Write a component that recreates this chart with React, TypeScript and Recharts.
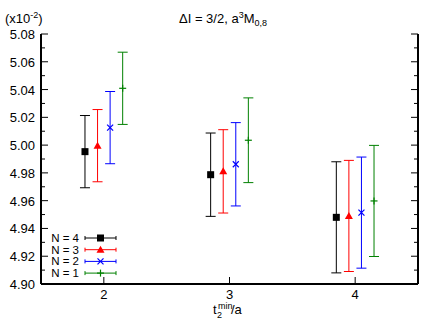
import React from 'react';
import { ScatterChart, Scatter, XAxis, YAxis, ErrorBar, Legend, Customized } from 'recharts';

const tminValues = [2, 3, 4];
const seriesNames = ['N = 4', 'N = 3', 'N = 2', 'N = 1'];
const seriesColors = ['#000000', '#ff0000', '#0000ff', '#008000'];
const seriesOffsets = [-0.15, -0.05, 0.05, 0.15];
const n4Values = [4.9953, 4.9787, 4.948];
const n4Errors = [0.026, 0.03, 0.04];
const n3Values = [4.9996, 4.9811, 4.949];
const n3Errors = [0.026, 0.03, 0.04];
const n2Values = [5.0126, 4.9862, 4.9514];
const n2Errors = [0.026, 0.03, 0.04];
const n1Values = [5.0409, 5.0035, 4.9598];
const n1Errors = [0.026, 0.0305, 0.04];
const xTicks = [2, 3, 4];
const yTicks = [4.9, 4.91, 4.92, 4.93, 4.94, 4.95, 4.96, 4.97, 4.98, 4.99, 5.0, 5.01, 5.02, 5.03, 5.04, 5.05, 5.06, 5.07, 5.08];

const FONT = '"Liberation Sans", Arial, Helvetica, sans-serif';

const allValues = [n4Values, n3Values, n2Values, n1Values];
const allErrors = [n4Errors, n3Errors, n2Errors, n1Errors];
const seriesData = allValues.map((vals, s) =>
  tminValues.map((t, i) => ({ x: t + seriesOffsets[s], y: vals[i], err: allErrors[s][i] }))
);

const isMajor = (v: number) => Math.round(v * 100) % 2 === 0;

const Marker = ({ kind, cx, cy, color }: any) => {
  if (kind === 0) return <rect x={cx - 3.5} y={cy - 3.5} width={7} height={7} fill={color} />;
  if (kind === 1) return <polygon points={`${cx},${cy - 4} ${cx + 4},${cy + 3} ${cx - 4},${cy + 3}`} fill={color} />;
  if (kind === 2)
    return (
      <g stroke={color} strokeWidth={1.2}>
        <line x1={cx - 3} y1={cy - 3} x2={cx + 3} y2={cy + 3} />
        <line x1={cx - 3} y1={cy + 3} x2={cx + 3} y2={cy - 3} />
      </g>
    );
  return (
    <g stroke={color} strokeWidth={1.2}>
      <line x1={cx - 3.5} y1={cy} x2={cx + 3.5} y2={cy} />
      <line x1={cx} y1={cy - 3.5} x2={cx} y2={cy + 3.5} />
    </g>
  );
};

const makeShape = (s: number) => (props: any) => <Marker kind={s} cx={props.cx} cy={props.cy} color={seriesColors[s]} />;

const LeftTick = (props: any) => {
  const { x, y, payload } = props;
  const v = payload.value;
  const major = isMajor(v);
  return (
    <g>
      <line x1={x} y1={y} x2={x + (major ? 7 : 4)} y2={y} stroke="#000" strokeWidth={1} />
      {major && (
        <text x={x - 6} y={y + 5} textAnchor="end" fontSize={13} fontFamily={FONT} fill="#000">
          {v.toFixed(2)}
        </text>
      )}
    </g>
  );
};

const RightTick = (props: any) => {
  const { x, y, payload } = props;
  const major = isMajor(payload.value);
  return <line x1={x} y1={y} x2={x - (major ? 7 : 4)} y2={y} stroke="#000" strokeWidth={1} />;
};

const BottomTick = (props: any) => {
  const { x, y, payload } = props;
  return (
    <g>
      <line x1={x} y1={y} x2={x} y2={y - 7} stroke="#000" strokeWidth={1} />
      <text x={x} y={y + 15} textAnchor="middle" fontSize={13} fontFamily={FONT} fill="#000">
        {payload.value}
      </text>
    </g>
  );
};

const TopTick = (props: any) => {
  const { x, y } = props;
  return <line x1={x} y1={y} x2={x} y2={y + 7} stroke="#000" strokeWidth={1} />;
};

const Labels = () => (
  <g fontFamily={FONT} fill="#000">
    <text x={5} y={23} fontSize={13}>
      (x10<tspan dy={-5} fontSize={9}>-2</tspan><tspan dy={5}>)</tspan>
    </text>
    <text x={179} y={23} fontSize={13}>
      ΔI = 3/2, a<tspan dy={-5} fontSize={9}>3</tspan><tspan dy={5}>M</tspan><tspan dy={3} fontSize={9}>0,8</tspan>
    </text>
    <text x={213} y={314} fontSize={13}>t</text>
    <text x={217} y={318} fontSize={9}>2</text>
    <text x={218} y={309} fontSize={9}>min</text>
    <text x={231} y={314} fontSize={13}>/a</text>
  </g>
);

const LegendContent = () => (
  <svg width={80} height={54} style={{ display: 'block', overflow: 'visible' }}>
    {seriesNames.map((name, s) => {
      const cy = 8 + s * 11.7;
      return (
        <g key={name}>
          <text x={34} y={cy + 4} textAnchor="end" fontSize={11.5} fontFamily={FONT} fill="#000">
            {name}
          </text>
          <line x1={40} y1={cy} x2={71} y2={cy} stroke={seriesColors[s]} strokeWidth={1} />
          <line x1={40} y1={cy - 2} x2={40} y2={cy + 2} stroke={seriesColors[s]} strokeWidth={1} />
          <line x1={71} y1={cy - 2} x2={71} y2={cy + 2} stroke={seriesColors[s]} strokeWidth={1} />
          <Marker kind={s} cx={55.5} cy={cy} color={seriesColors[s]} />
        </g>
      );
    })}
  </svg>
);

export default function App() {
  return (
    <div style={{ position: 'absolute', left: 0, top: 0, width: 436, height: 327, background: '#fff' }}>
      <ScatterChart width={436} height={327} margin={{ top: 34, right: 0, bottom: 0, left: 0 }}>
        <XAxis
          type="number"
          dataKey="x"
          domain={[1.5, 4.5]}
          ticks={xTicks}
          interval={0}
          height={43}
          tickSize={0}
          tickMargin={0}
          tickLine={false}
          tick={<BottomTick />}
          axisLine={{ stroke: '#000', strokeWidth: 2 }}
          allowDataOverflow
        />
        <XAxis
          xAxisId="top"
          orientation="top"
          type="number"
          domain={[1.5, 4.5]}
          ticks={xTicks}
          interval={0}
          height={0}
          tickSize={0}
          tickMargin={0}
          tickLine={false}
          tick={<TopTick />}
          axisLine={{ stroke: '#000', strokeWidth: 2 }}
          allowDataOverflow
        />
        <YAxis
          type="number"
          dataKey="y"
          domain={[4.9, 5.08]}
          ticks={yTicks}
          interval={0}
          width={41}
          tickSize={0}
          tickMargin={0}
          tickLine={false}
          tick={<LeftTick />}
          axisLine={{ stroke: '#000', strokeWidth: 2 }}
          allowDataOverflow
        />
        <YAxis
          yAxisId="right"
          orientation="right"
          type="number"
          domain={[4.9, 5.08]}
          ticks={yTicks}
          interval={0}
          width={18}
          tickSize={0}
          tickMargin={0}
          tickLine={false}
          tick={<RightTick />}
          axisLine={{ stroke: '#000', strokeWidth: 2 }}
          allowDataOverflow
        />
        {seriesData.map((d, s) => (
          <Scatter
            key={seriesNames[s]}
            name={seriesNames[s]}
            data={d}
            fill={seriesColors[s]}
            shape={makeShape(s)}
            isAnimationActive={false}
          >
            <ErrorBar dataKey="err" direction="y" width={5} stroke={seriesColors[s]} strokeWidth={1} />
          </Scatter>
        ))}
        <Legend
          layout="horizontal"
          verticalAlign="middle"
          align="center"
          content={<LegendContent />}
          wrapperStyle={{ left: 45, top: 230, width: 80, height: 54 }}
        />
        <Customized component={<Labels />} />
      </ScatterChart>
    </div>
  );
}
